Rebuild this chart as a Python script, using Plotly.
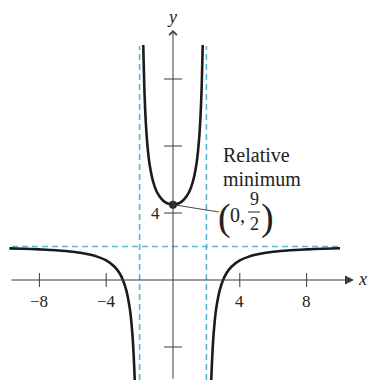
import plotly.graph_objects as go

# Curve values (three branches)
left_x = [-9.8, -9, -8, -7, -6, -5, -4.5, -4, -3.5, -3.2, -3, -2.8, -2.6, -2.5, -2.4, -2.3, -2.28]
left_y = [1.89, 1.87, 1.83, 1.78, 1.69, 1.52, 1.38, 1.17, 0.79, 0.40, 0.0, -0.60, -1.62, -2.44, -3.68, -5.75, -6.34]
mid_x = [-1.78, -1.7, -1.6, -1.5, -1.4, -1.2, -1.0, -0.8, -0.6, -0.4, -0.2, 0,
         0.2, 0.4, 0.6, 0.8, 1.0, 1.2, 1.4, 1.5, 1.6, 1.7, 1.78]
mid_y = [14.03, 11.01, 8.94, 7.71, 6.90, 5.91, 5.33, 4.98, 4.75, 4.60, 4.53, 4.50,
         4.53, 4.60, 4.75, 4.98, 5.33, 5.91, 6.90, 7.71, 8.94, 11.01, 14.03]
right_x = [2.28, 2.3, 2.4, 2.5, 2.6, 2.8, 3, 3.2, 3.5, 4, 4.5, 5, 6, 7, 8, 9, 10]
right_y = [-6.34, -5.75, -3.68, -2.44, -1.62, -0.60, 0.0, 0.40, 0.79, 1.17, 1.38, 1.52, 1.69, 1.78, 1.83, 1.87, 1.90]

asym_x = [-2, 2]
asym_y = [2]
min_pt = (0, 4.5)
x_ticks = [-8, -4, 4, 8]
x_tick_labels = ["−8", "−4", "4", "8"]
y_ticks = [12, 8, 4, -4]
y_tick_labels = {4: "4"}

# helpers take window pixels (page margin removed below)
PX_X0, PX_Y0, SX, SY = 173, 280, 16.7, 16.75
def X(px): return (px - PX_X0) / SX
def Y(py): return (PX_Y0 - py) / SY

CURVE = "#1b1b1b"
DASH = "#5ab6d8"
AXIS = "#3a3a3a"
SERIF = "Liberation Serif"

fig = go.Figure()

shapes = []
for ax in asym_x:
    shapes.append(dict(type="line", xref="x", yref="y", x0=ax, x1=ax, y0=Y(380), y1=Y(46),
                       line=dict(color=DASH, width=1.6, dash="6px,4px"), layer="below"))
for ay in asym_y:
    shapes.append(dict(type="line", xref="x", yref="y", x0=X(12), x1=X(341), y0=ay, y1=ay,
                       line=dict(color=DASH, width=1.6, dash="6px,4px"), layer="below"))
for t in x_ticks:
    shapes.append(dict(type="line", xref="x", yref="y", x0=t, x1=t, y0=Y(273), y1=Y(287),
                       line=dict(color=AXIS, width=1)))
for t in y_ticks:
    shapes.append(dict(type="line", xref="x", yref="y", x0=X(164), x1=X(182), y0=t, y1=t,
                       line=dict(color=AXIS, width=1)))
shapes.append(dict(type="line", xref="x", yref="y", x0=X(248), x1=X(260), y0=Y(212), y1=Y(212),
                   line=dict(color="#222", width=1)))
shapes.append(dict(type="line", xref="x", yref="y", x0=min_pt[0], x1=X(219), y0=min_pt[1], y1=Y(212),
                   line=dict(color="#333", width=0.9)))

for xs, ys in [(left_x, left_y), (mid_x, mid_y), (right_x, right_y)]:
    fig.add_trace(go.Scatter(x=xs, y=ys, mode="lines",
                             line=dict(color=CURVE, width=2.6, shape="spline", smoothing=0.8),
                             hoverinfo="skip", showlegend=False))

fig.add_trace(go.Scatter(x=[min_pt[0]], y=[min_pt[1]], mode="markers",
                         marker=dict(color="#2a2a2a", size=8), showlegend=False, hoverinfo="skip"))

def txt(px, py, s, size, anchor="center"):
    return dict(x=X(px), y=Y(py), text=s, showarrow=False, xref="x", yref="y", xanchor=anchor,
                font=dict(family=SERIF, size=size, color="#222"))

ann = []
ann.append(dict(x=X(354), y=0, ax=X(10), ay=0, xref="x", yref="y", axref="x", ayref="y",
                showarrow=True, arrowhead=2, arrowsize=1.8, arrowwidth=1, arrowcolor=AXIS, text=""))
ann.append(dict(x=0, y=Y(30), ax=0, ay=Y(380), xref="x", yref="y", axref="x", ayref="y",
                showarrow=True, arrowhead=4, arrowsize=1.5, arrowwidth=1, arrowcolor=AXIS, text=""))
ann.append(dict(x=X(357), y=Y(279), text="<i>x</i>", showarrow=False, xref="x", yref="y",
                xanchor="left", borderpad=0,
                font=dict(family=SERIF, size=18, color="#222")))
ann.append(txt(172, 17, "<i>y</i>", 18))
for t, lab in zip(x_ticks, x_tick_labels):
    ann.append(dict(x=t, y=Y(301), text=lab, showarrow=False, xref="x", yref="y",
                    font=dict(family=SERIF, size=17, color="#222")))
for t, lab in y_tick_labels.items():
    ann.append(dict(x=X(155), y=t, text=lab, showarrow=False, xref="x", yref="y",
                    font=dict(family=SERIF, size=17, color="#222")))
ann.append(txt(221, 155, "Relative", 20, "left"))
ann.append(txt(221, 179, "minimum", 20, "left"))
ann.append(txt(224, 217, "(", 38))
ann.append(txt(237, 215, "0,", 20))
ann.append(txt(254, 199, "9", 18))
ann.append(txt(254, 224, "2", 18))
ann.append(txt(267, 217, ")", 38))

fig.update_layout(
    width=370, height=380, margin=dict(l=0, r=0, t=0, b=0), autosize=False,
    paper_bgcolor="white", plot_bgcolor="white",
    xaxis=dict(range=[X(0), X(370)], visible=False, fixedrange=True),
    yaxis=dict(range=[Y(380), Y(0)], visible=False, fixedrange=True),
    shapes=shapes, annotations=ann, showlegend=False,
)

fig.write_html("out.html", config={"displayModeBar": False},
               post_script="document.body.style.margin='0';document.body.style.overflow='hidden';")
